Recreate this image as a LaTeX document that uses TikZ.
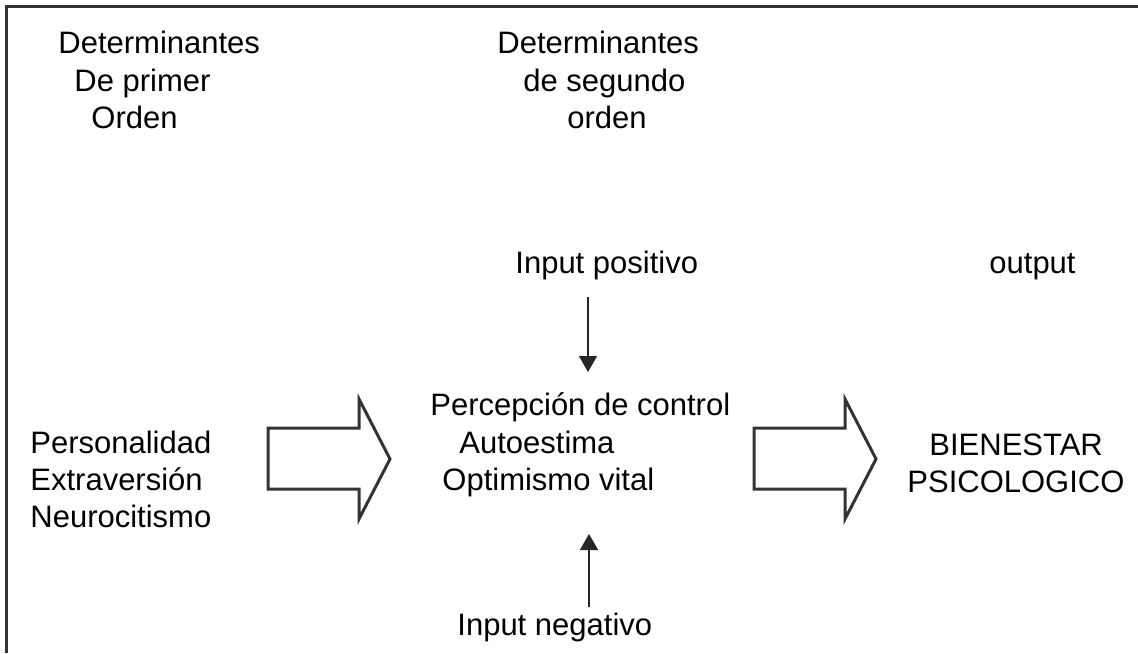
\documentclass[tikz,border=0pt]{standalone}
\usepackage{fontspec}
\setmainfont{Liberation Sans}
\usetikzlibrary{arrows.meta}
\colorlet{line gray}{black!80}
\tikzset{
  label/.style={anchor=base west, inner sep=0pt, font=\fontsize{15.5}{18.6}\selectfont},
  blockarrow/.style={draw=line gray, line width=1.5pt, line join=miter},
  smallarrow/.style={draw=black!85, line width=0.8pt, -{Triangle[width=9pt,length=8pt]}}
  }
\tikzstyle{frame} = [draw=line gray, line width=1.5pt]

\begin{document}
\begin{tikzpicture}[x=0.5pt,y=-0.5pt]
       \useasboundingbox (0,0) rectangle (1138,653);
       \draw[frame] (1138,6) -- (6,6) -- (6,653);
       \foreach \x/\y/\name/\txt in {58/53/detA/Determinantes, 74/91/primer/De primer, 91/128/ordA/Orden,
           497/53/detB/Determinantes, 523/91/segundo/de segundo, 567/128/ordB/orden,
           515/273/inpos/Input positivo, 989/273/out/output,
           30/453/pers/Personalidad, 30/490/extra/Extraversión, 30/527/neuro/Neurocitismo,
           430/415/percep/Percepción de control, 459/453/auto/Autoestima, 442/490/optim/Optimismo vital,
           929/455/bien/BIENESTAR, 907/492/psico/PSICOLOGICO,
           457/635/inneg/Input negativo} {
           \node[label] (\name) at (\x,\y) {\txt};
       }
       \foreach \ax in {268,754} {
           \draw[blockarrow] (\ax,428) -- (\ax+91,428) -- (\ax+91,399) -- (\ax+122,459)
               -- (\ax+91,519) -- (\ax+91,489) -- (\ax,489) -- cycle;
       }
       \coordinate (postail) at (588,297);
       \coordinate (postip) at (588,372);
       \coordinate (negtail) at (589,607);
       \coordinate (negtip) at (589,534);
       \draw[smallarrow] (postail) -- (postip);
       \draw[smallarrow] (negtail) -- (negtip);
\end{tikzpicture}
\end{document}
